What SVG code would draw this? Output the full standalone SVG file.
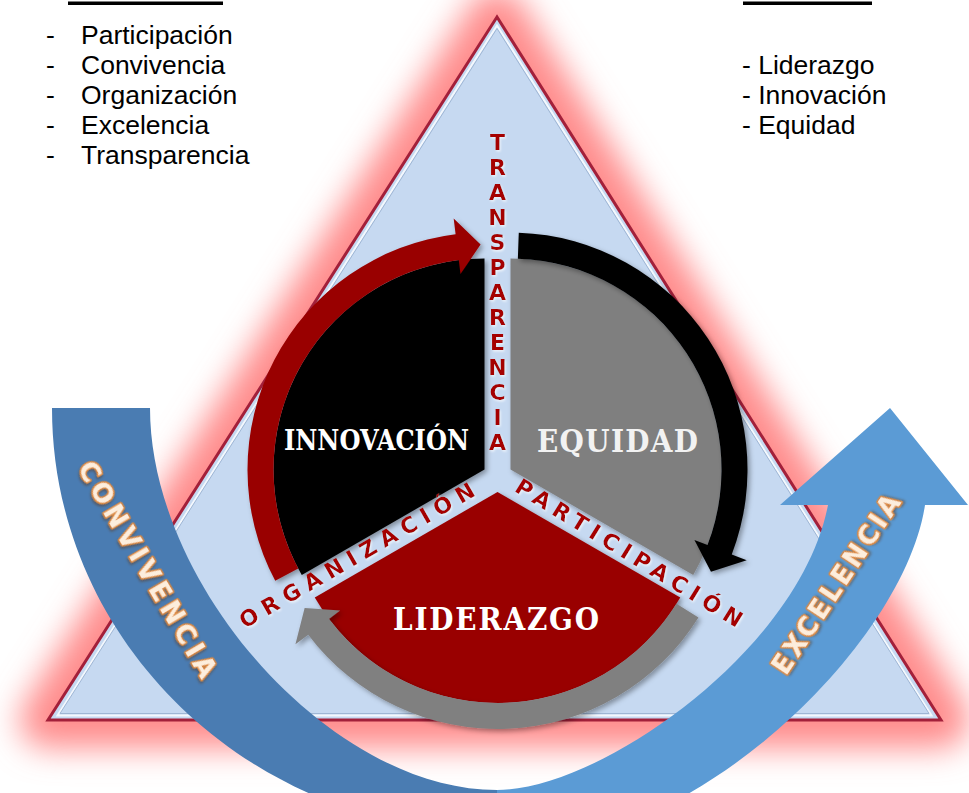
<svg xmlns="http://www.w3.org/2000/svg" width="969" height="793" viewBox="0 0 969 793">
<defs>
<style>
.list{font-family:"Liberation Sans",Arial,sans-serif;font-size:26.5px;fill:#000}
.red{font-family:"DejaVu Sans","Liberation Sans",sans-serif;font-weight:bold;font-size:22px;fill:#a50000}
.seg{font-family:"DejaVu Serif","Liberation Serif",serif;font-weight:bold;font-stretch:condensed;fill:#fff}
.word{font-family:"DejaVu Sans","Liberation Sans",sans-serif;font-weight:bold;font-size:26px;fill:#fdeedd;stroke:#dc8a42;stroke-width:3;paint-order:stroke;stroke-linejoin:round}
</style>
<filter id="glow" x="-20%" y="-20%" width="140%" height="140%"><feGaussianBlur stdDeviation="16"/></filter>
<filter id="sh" x="-15%" y="-15%" width="135%" height="135%"><feDropShadow dx="2.5" dy="2.5" stdDeviation="2.5" flood-color="#000" flood-opacity="0.35"/></filter>
<filter id="tsh" x="-10%" y="-30%" width="130%" height="160%"><feDropShadow dx="1.5" dy="1.5" stdDeviation="1" flood-color="#5a3010" flood-opacity="0.5"/></filter>
<filter id="rsh" x="-10%" y="-30%" width="130%" height="160%"><feDropShadow dx="1" dy="1.5" stdDeviation="1" flood-color="#ffffff" flood-opacity="0.7"/></filter>
</defs>
<rect width="969" height="793" fill="#fff"/>

<g id="lists">
<rect x="68" y="1.5" width="155" height="3.5" fill="#000"/>
<rect x="743" y="1.5" width="129" height="3.5" fill="#000"/>
<text class="list" x="46" y="44">-</text><text class="list" x="81" y="44">Participación</text>
<text class="list" x="46" y="74">-</text><text class="list" x="81" y="74">Convivencia</text>
<text class="list" x="46" y="104">-</text><text class="list" x="81" y="104">Organización</text>
<text class="list" x="46" y="134">-</text><text class="list" x="81" y="134">Excelencia</text>
<text class="list" x="46" y="164">-</text><text class="list" x="81" y="164">Transparencia</text>
<text class="list" x="742" y="74">- Liderazgo</text>
<text class="list" x="742" y="104">- Innovación</text>
<text class="list" x="742" y="134">- Equidad</text>
</g>

<g id="triangle">
<polygon points="497,17 48,720 941,720" fill="#ff8c8c" stroke="#ff8c8c" stroke-width="56" stroke-linejoin="round" filter="url(#glow)"/>
<polygon points="497,17 48,720 941,720" fill="#c6d9f1" stroke="#a3203a" stroke-width="3" stroke-linejoin="miter"/>
<polygon points="497,25.5 57.5,715.5 931.5,715.5" fill="none" stroke="#f4f8fd" stroke-width="2"/>
<polygon points="497,28.5 60,713.5 929,713.5" fill="none" stroke="#9fb6d4" stroke-width="1"/>
</g>

<g id="arrow-convivencia">
<path d="M52,408 C52,642.6 251.4,833 497,833 L497,790 C330,790 150,585 150,408 Z" fill="#4a7cb2"/>
<text class="word" filter="url(#tsh)" transform="translate(139.3,574) rotate(59.5)" text-anchor="middle" textLength="246" lengthAdjust="spacing">CONVIVENCIA</text>
</g>

<g id="arrow-excelencia">
<path d="M497,790 C600,790 800,650 828,505 L780,505 L890,408 L968,505 L925,505 C905,640 700,850 497,850 Z" fill="#5b9bd5"/>
<text class="word" filter="url(#tsh)" transform="translate(843.7,589.4) rotate(-56.4)" text-anchor="middle" textLength="209" lengthAdjust="spacing">EXCELENCIA</text>
</g>

<g id="seg-innovacion">
<path d="M484.5,469.5 L301.77,575 A211,211 0 0 1 484.5,258.5 Z" fill="#000" filter="url(#sh)"/>
<text class="seg" x="284" y="450" font-size="28" textLength="185" lengthAdjust="spacingAndGlyphs">INNOVACIÓN</text>
</g>

<g id="seg-equidad">
<path d="M510.5,469.5 L510.5,258.5 A211,211 0 0 1 693.23,575 Z" fill="#7f7f7f" filter="url(#sh)"/>
<text class="seg" x="537" y="452" font-size="31" style="fill:#f2f2f2" textLength="161" lengthAdjust="spacing">EQUIDAD</text>
</g>

<g id="seg-liderazgo">
<path d="M497.5,492 L680.23,597.5 A211,211 0 0 1 314.77,597.5 Z" fill="#990000" filter="url(#sh)"/>
<text class="seg" x="393" y="630" font-size="31" textLength="206" lengthAdjust="spacing">LIDERAZGO</text>
</g>

<g id="connectors">
<path d="M275.24,580.76 A237,237 0 0 1 455.62,234.27 L453.67,218.38 L480.57,244.53 L460.49,273.97 L458.79,260.07 A211,211 0 0 0 298.2,568.56 Z" fill="#990000" filter="url(#sh)"/>
<path d="M518.77,232.64 A237,237 0 0 1 731.76,554.43 L746.7,560.17 L710.98,571.65 L694.42,540.1 L707.49,545.12 A211,211 0 0 0 517.86,258.63 Z" fill="#000" filter="url(#sh)"/>
<path d="M698.49,617.59 A237,237 0 0 1 308.22,634.63 L295.44,644.26 L304.64,607.88 L340.17,610.56 L328.99,618.98 A211,211 0 0 0 676.44,603.81 Z" fill="#808080" filter="url(#sh)"/>
</g>

<g id="labels" filter="url(#rsh)">
<text class="red" text-anchor="middle">
<tspan x="497.5" y="149.5">T</tspan><tspan x="497.5" y="174.5">R</tspan><tspan x="497.5" y="199.5">A</tspan><tspan x="497.5" y="224.5">N</tspan><tspan x="497.5" y="249.5">S</tspan><tspan x="497.5" y="274.5">P</tspan><tspan x="497.5" y="299.5">A</tspan><tspan x="497.5" y="324.5">R</tspan><tspan x="497.5" y="349.5">E</tspan><tspan x="497.5" y="374.5">N</tspan><tspan x="497.5" y="399.5">C</tspan><tspan x="497.5" y="424.5">I</tspan><tspan x="497.5" y="449.5">A</tspan>
</text>
<text class="red" transform="translate(360.7,562) rotate(-30)" text-anchor="middle" textLength="268" lengthAdjust="spacing">ORGANIZACIÓN</text>
<text class="red" transform="translate(625,559.5) rotate(31.6)" text-anchor="middle" textLength="262" lengthAdjust="spacing">PARTICIPACIÓN</text>
</g>
</svg>
